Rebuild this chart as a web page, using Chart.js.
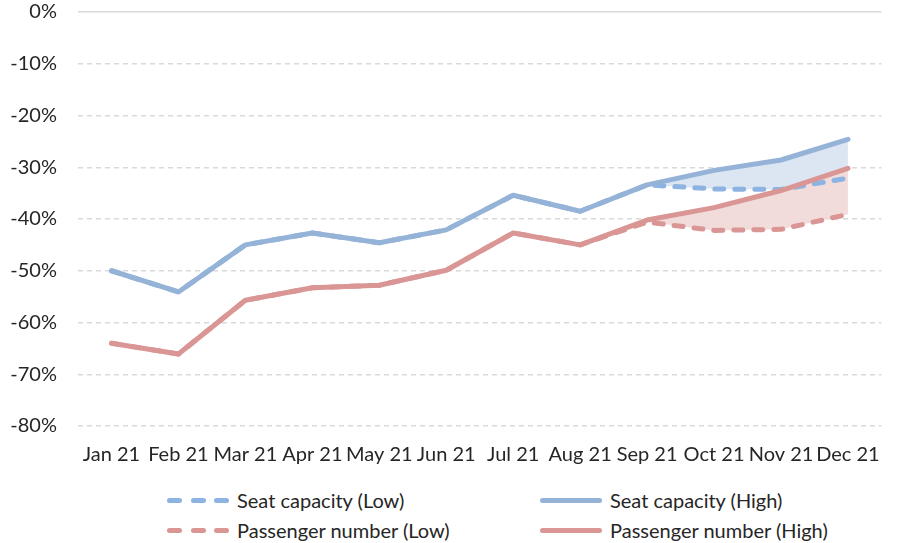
<!DOCTYPE html>
<html lang="en">
<head>
    <meta charset="UTF-8">
    <title>Seat capacity and passenger numbers 2021</title>
    <script src="https://cdn.jsdelivr.net/npm/chart.js"></script>
    <style>
        body {
            margin: 0;
            background: #fff;
            font-family: 'Lato', sans-serif;
            color: #262626;
            overflow: hidden;
        }
        .wrap {
            position: relative;
            width: 897px;
            height: 543px;
            overflow: hidden;
        }
        .chart-box {
            position: absolute;
            left: 0;
            top: -21px;
            width: 897px;
            height: 487px;
        }
        .legend {
            position: absolute;
            font-size: 20px;
            display: flex;
            align-items: center;
            height: 26px;
        }
        .swatch {
            width: 62px;
            height: 5px;
            margin-right: 8px;
            display: flex;
            justify-content: space-between;
        }
        .swatch span {
            display: block;
            width: 15px;
            height: 5px;
            border-radius: 3px;
        }
        .swatch.solid span {
            width: 62px;
        }
    </style>
</head>
<body>
    <div class="wrap">
        <div class="chart-box"><canvas id="chart"></canvas></div>
        <div class="legend" style="left:167px;top:487px;"><div class="swatch"><span></span><span></span><span></span></div>Seat capacity (Low)</div>
        <div class="legend" style="left:540px;top:487px;"><div class="swatch solid"><span></span></div>Seat capacity (High)</div>
        <div class="legend" style="left:167px;top:517px;"><div class="swatch"><span></span><span></span><span></span></div>Passenger number (Low)</div>
        <div class="legend" style="left:540px;top:517px;"><div class="swatch solid"><span></span></div>Passenger number (High)</div>
    </div>
    <script>
        const months = ['Jan 21', 'Feb 21', 'Mar 21', 'Apr 21', 'May 21', 'Jun 21', 'Jul 21', 'Aug 21', 'Sep 21', 'Oct 21', 'Nov 21', 'Dec 21'];
        const seatLow = [-50, -54.1, -45, -42.7, -44.6, -42.1, -35.4, -38.5, -33.4, -34.2, -34.3, -32.1];
        const seatHigh = [-50, -54.1, -45, -42.7, -44.6, -42.1, -35.4, -38.5, -33.4, -30.6, -28.6, -24.6];
        const paxLow = [-64, -66.1, -55.7, -53.3, -52.8, -49.9, -42.7, -45, -40.6, -42.2, -42, -39.1];
        const paxHigh = [-64, -66.1, -55.7, -53.3, -52.8, -49.9, -42.7, -45, -40.2, -37.8, -34.5, -30.2];
        const yTicks = [0, -10, -20, -30, -40, -50, -60, -70, -80];

        const blueDash = '#8db3e2';
        const blue = '#95b3d7';
        const pinkDash = '#d99694';
        const pink = '#d99694';

        // legend swatch colours
        const sw = document.querySelectorAll('.swatch');
        [blueDash, blue, pinkDash, pink].forEach((c, i) => {
            sw[i].querySelectorAll('span').forEach(s => s.style.background = c);
        });

        new Chart(document.getElementById('chart'), {
            type: 'line',
            data: {
                labels: months,
                datasets: [
                    { label: 'Seat capacity (Low)', data: seatLow, borderColor: blueDash, borderWidth: 5, borderDash: [9, 11], borderCapStyle: 'round', fill: false, order: 4 },
                    { label: 'Seat capacity (High)', data: seatHigh, borderColor: blue, borderWidth: 5, borderCapStyle: 'round',
                      fill: { target: 0, above: '#dce6f2', below: '#dce6f2' }, order: 3 },
                    { label: 'Passenger number (Low)', data: paxLow, borderColor: pinkDash, borderWidth: 5, borderDash: [9, 11], borderCapStyle: 'round', fill: false, order: 2 },
                    { label: 'Passenger number (High)', data: paxHigh, borderColor: pink, borderWidth: 5, borderCapStyle: 'round',
                      fill: { target: 2, above: '#f2dcdb', below: '#f2dcdb' }, order: 1 }
                ]
            },
            options: {
                responsive: true,
                maintainAspectRatio: false,
                animation: false,
                elements: { point: { radius: 0 }, line: { tension: 0, borderJoinStyle: 'round' } },
                layout: { padding: { top: 0, right: 7, bottom: 0, left: 0 } },
                plugins: {
                    legend: { display: false },
                    tooltip: { enabled: false },
                    filler: { drawTime: 'beforeDatasetsDraw' }
                },
                scales: {
                    x: {
                        offset: true,
                        afterFit: s => { s.height = 40; },
                        grid: { display: false, drawTicks: false, offset: true },
                        border: { display: false },
                        ticks: { color: '#262626', font: { family: 'Lato', size: 20 }, padding: 17, maxRotation: 0, autoSkip: false }
                    },
                    y: {
                        min: -80,
                        max: 0,
                        afterFit: s => { s.width = 78; },
                        afterBuildTicks: s => { s.ticks = yTicks.map(v => ({ value: v })); },
                        grid: { color: '#d9d9d9', lineWidth: 1.5, drawTicks: false },
                        border: { display: false, dash: ctx => (ctx.tick && ctx.tick.value === 0 ? [] : [5, 4]) },
                        ticks: { color: '#262626', font: { family: 'Lato', size: 20 }, padding: 21, callback: v => v + '%' }
                    }
                }
            }
        });
    </script>
</body>
</html>
